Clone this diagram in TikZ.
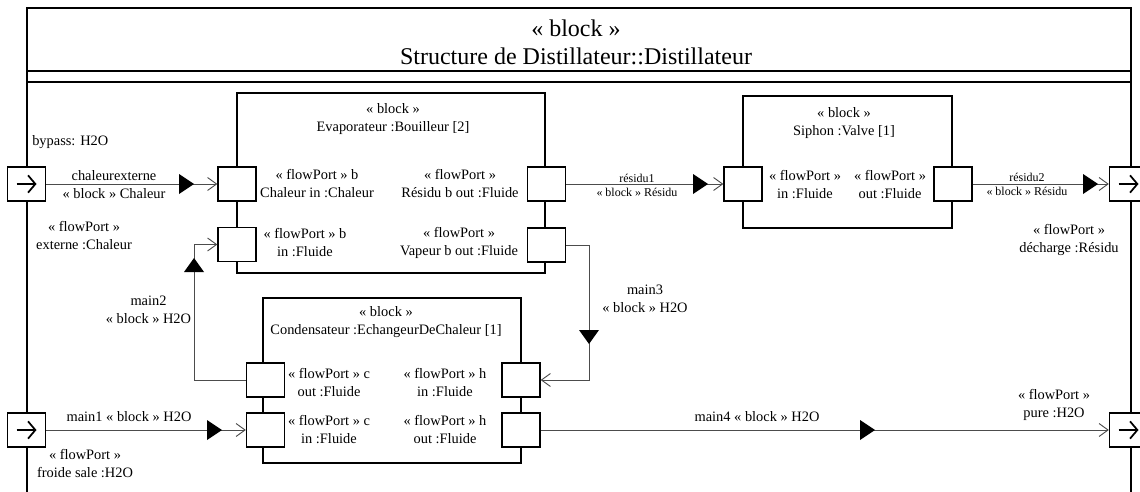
\documentclass[tikz,border=0pt]{standalone}
\usepackage{fontspec}
\setmainfont{Liberation Serif}
\usetikzlibrary{arrows.meta}
\begin{document}
\begin{tikzpicture}[x=0.75pt,y=-0.75pt,
  lbl/.style={font=\fontsize{10.8}{13.5}\selectfont, align=center, inner sep=0pt},
  small/.style={font=\fontsize{9}{10.5}\selectfont, align=center, inner sep=0pt},
  port/.style={draw, line width=1pt, fill=white, minimum width=28.5pt, minimum height=25.5pt, inner sep=0pt},
  blk/.style={draw, line width=0.9pt, inner sep=0pt},
  conn/.style={draw=black!70, line width=0.7pt, -{Straight Barb[length=6.75pt,width=9.75pt]}},
  bnd/.style={line width=1.3pt, -{Straight Barb[length=5.5pt,width=13pt]}},
  framel/.style={line width=1pt}]
\useasboundingbox (0,0) rectangle (1140,492);
\clip (0,0) rectangle (1140,492);
% frame
\draw[framel] (27,492) -- (27,8) -- (1131,8) -- (1131,492);
\draw[framel] (27,71) -- (1131,71);
\draw[framel] (27,82) -- (1131,82);
\node[font=\fontsize{18}{21}\selectfont, align=center, inner sep=0pt] (title) at (576,42) {« block »\\Structure de Distillateur::Distillateur};
% blocks
\node[blk, minimum width=231pt, minimum height=135pt] (evap) at (391,183) {};
\node[blk, minimum width=156.75pt, minimum height=99pt] (siph) at (847.5,162) {};
\node[blk, minimum width=193.5pt, minimum height=123.75pt] (cond) at (392,380.5) {};
% connectors
\coordinate (m2c) at (194,244.5);
\coordinate (m3c) at (589,245);
% ports
\node[port] (bL1) at (26.5,184) {};
\node[port] (bL2) at (26.5,430) {};
\node[port] (bR1) at (1128.5,184) {};
\node[port] (bR2) at (1128.5,430) {};
\node[port] (evCh) at (237,184) {};
\node[port] (evIn) at (237,244.5) {};
\node[port] (evRes) at (546.5,184) {};
\node[port] (evVap) at (546.5,245) {};
\node[port] (siIn) at (743,184) {};
\node[port] (siOut) at (953,184) {};
\node[port] (coCout) at (265.5,380) {};
\node[port] (coCin) at (265.5,430) {};
\node[port] (coHin) at (521,380) {};
\node[port] (coHout) at (521,430) {};
\foreach \p in {bL1,bL2,bR1,bR2} \draw[bnd] ([xshift=-7.5pt]\p.center) -- ([xshift=7.5pt]\p.center);
% connectors
\draw[conn] (bL1.east) -- (evCh.west);
\draw[conn] (coCout.west) -| (m2c) -- (evIn.west);
\draw[conn] (evRes.east) -- (siIn.west);
\draw[conn] (evVap.east) -- (m3c) |- (coHin.east);
\draw[conn] (siOut.east) -- (bR1.west);
\draw[conn] (bL2.east) -- (coCin.west);
\draw[conn] (coHout.east) -- (bR2.west);
% flow markers
\fill (179,174) -- (194,184) -- (179,194) -- cycle;
\fill (184,272) -- (194,258) -- (204,272) -- cycle;
\fill (693,174) -- (708,184) -- (693,194) -- cycle;
\fill (579,330) -- (589,344) -- (599,330) -- cycle;
\fill (1083,174) -- (1098,184) -- (1083,194) -- cycle;
\fill (207,420) -- (222,430) -- (207,440) -- cycle;
\fill (860,420) -- (875,430) -- (860,440) -- cycle;
% labels
\node[lbl] (tEv) at (393,119) {« block »\\Evaporateur :Bouilleur [2]};
\node[lbl] (tSi) at (844,123) {« block »\\Siphon :Valve [1]};
\node[lbl] (tCo) at (386,322) {« block »\\Condensateur :EchangeurDeChaleur [1]};
\node[lbl, anchor=west] (lBy) at (32,142) {bypass: H2O};
\node[lbl] (lCe) at (114,185) {chaleurexterne\\« block » Chaleur};
\node[lbl] (lEx) at (84,236) {« flowPort »\\externe :Chaleur};
\node[lbl] (lEvCh) at (317,184) {« flowPort » b\\Chaleur in :Chaleur};
\node[lbl] (lEvIn) at (305,243) {« flowPort » b\\in :Fluide};
\node[lbl] (lEvRes) at (460,184) {« flowPort »\\Résidu b out :Fluide};
\node[lbl] (lEvVap) at (459,243) {« flowPort »\\Vapeur b out :Fluide};
\node[small] (lR1) at (637,185) {résidu1\\« block » Résidu};
\node[lbl] (lSiIn) at (805,185) {« flowPort »\\in :Fluide};
\node[lbl] (lSiOut) at (890,185) {« flowPort »\\out :Fluide};
\node[small] (lR2) at (1027,184) {résidu2\\« block » Résidu};
\node[lbl] (lDe) at (1069,240) {« flowPort »\\décharge :Résidu};
\node[lbl] (lM2) at (148.5,310) {main2\\« block » H2O};
\node[lbl] (lM3) at (645,298.5) {main3\\« block » H2O};
\node[lbl] (lCoCout) at (329,383) {« flowPort » c\\out :Fluide};
\node[lbl] (lCoCin) at (329,430) {« flowPort » c\\in :Fluide};
\node[lbl] (lCoHin) at (445,383) {« flowPort » h\\in :Fluide};
\node[lbl] (lCoHout) at (445,430) {« flowPort » h\\out :Fluide};
\node[lbl] (lM1) at (129,417) {main1 « block » H2O};
\node[lbl] (lM4) at (757,417) {main4 « block » H2O};
\node[lbl] (lFr) at (85,464) {« flowPort »\\froide sale :H2O};
\node[lbl] (lPu) at (1054,405) {« flowPort »\\pure :H2O};
\end{tikzpicture}
\end{document}
